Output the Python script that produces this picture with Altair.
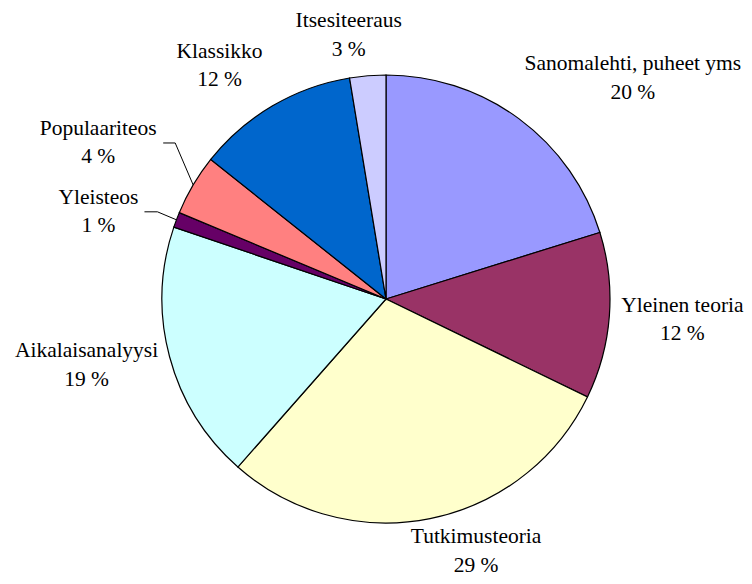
import math
import altair as alt
import pandas as pd

# ---- data ----
categories = ["Sanomalehti, puheet yms", "Yleinen teoria", "Tutkimusteoria",
              "Aikalaisanalyysi", "Yleisteos", "Populaariteos", "Klassikko",
              "Itsesiteeraus"]
values = [20.2, 12.0, 29.3, 18.7, 1.1, 4.4, 11.7, 2.6]
colors = ["#9999FF", "#993366", "#FFFFCC", "#CCFFFF", "#660066", "#FF8080",
          "#0066CC", "#CCCCFF"]

# ---- layout (pixels inside the plot area) ----
W, H = 736, 568
CX, CY, R = 378, 291, 224
LINE_H = 28.5
# label-block centre nudges from the slice's rim mid-point (Excel-like outside labels)
label_shift = [(114, -40), (73, 4), (46, 33), (-83, 9), (-78, -8), (-95, -42),
               (-53, -40), (-19, -40)]
# leader lines: (start offset, elbow offset) from label centre, None = no leader
leaders = [None, None, None, None, (46, 59), (65, 77), None, None]

total = sum(values)
rows, lab_rows, seg_rows = [], [], []
cum = 0.0
for i, (c, v) in enumerate(zip(categories, values)):
    mid = (cum + v / 2) / total * 2 * math.pi
    cum += v
    rx = CX + R * math.sin(mid)
    ry = CY - R * math.cos(mid)
    bx = rx + label_shift[i][0]
    by = ry + label_shift[i][1]
    rows.append({"cat": c, "value": v, "idx": i})
    # first line sits half a line above the block centre
    lab_rows.append({"cat": c, "label": f"{c}\n{round(v)} %", "lx": bx,
                     "ly": by - LINE_H / 2})
    if leaders[i] is not None:
        s, e = leaders[i]
        seg_rows.append({"x": bx + s, "y": by, "x2": bx + e, "y2": by})
        seg_rows.append({"x": bx + e, "y": by, "x2": rx, "y2": ry})

df = pd.DataFrame(rows)
df_lab = pd.DataFrame(lab_rows)
df_seg = pd.DataFrame(seg_rows)

pie = alt.Chart(df).mark_arc(outerRadius=R, stroke="black", strokeWidth=1.2).encode(
    theta=alt.Theta("value:Q", stack=True),
    order=alt.Order("idx:Q", sort="ascending"),
    color=alt.Color("cat:N", scale=alt.Scale(domain=categories, range=colors), legend=None),
    x=alt.value(CX),
    y=alt.value(CY),
)

labels = alt.Chart(df_lab).mark_text(
    font="'Times New Roman', 'Liberation Serif', serif", fontSize=21.5, color="black",
    align="center", baseline="middle", lineBreak="\n", lineHeight=LINE_H,
).encode(
    x=alt.X("lx:Q", scale=None, axis=None),
    y=alt.Y("ly:Q", scale=None, axis=None),
    text="label:N",
)

lead = alt.Chart(df_seg).mark_rule(color="black", strokeWidth=1).encode(
    x=alt.X("x:Q", scale=None, axis=None),
    y=alt.Y("y:Q", scale=None, axis=None),
    x2="x2:Q",
    y2="y2:Q",
)

chart = alt.layer(pie, lead, labels).properties(
    width=W, height=H, padding=0, autosize=alt.AutoSizeParams(type="none"),
    background="white",
).configure_view(strokeWidth=0)

chart.save("out.html", embed_options={"renderer": "svg", "actions": False})
